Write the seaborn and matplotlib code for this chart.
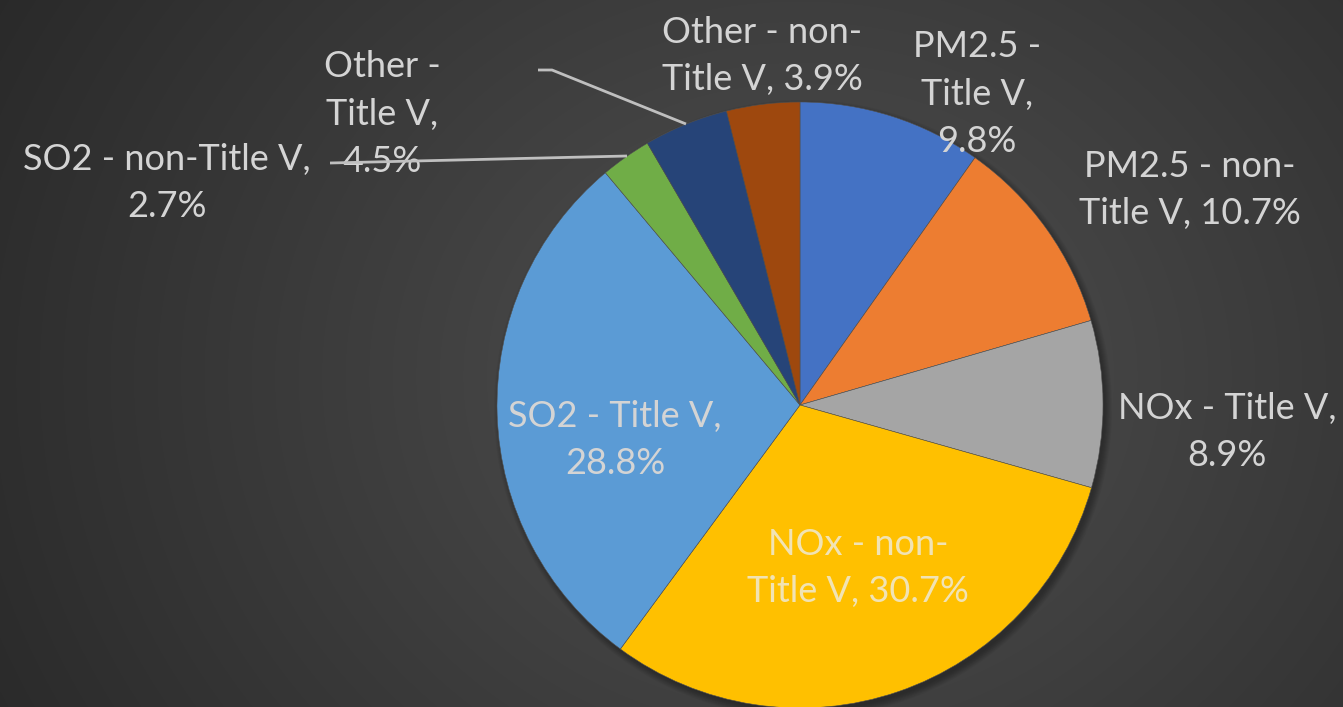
import numpy as np
import matplotlib
matplotlib.use("Agg")
import matplotlib.pyplot as plt
import seaborn as sns

# Emission shares by pollutant and permit class
categories = [
    "PM2.5 - Title V", "PM2.5 - non-Title V", "NOx - Title V", "NOx - non-Title V",
    "SO2 - Title V", "SO2 - non-Title V", "Other - Title V", "Other - non-Title V",
]
shares = [9.8, 10.7, 8.9, 30.7, 28.8, 2.7, 4.5, 3.9]
label_texts = [
    "PM2.5 -\nTitle V,\n9.8%",
    "PM2.5 - non-\nTitle V, 10.7%",
    "NOx - Title V,\n8.9%",
    "NOx - non-\nTitle V, 30.7%",
    "SO2 - Title V,\n28.8%",
    "SO2 - non-Title V,\n2.7%",
    "Other -\nTitle V,\n4.5%",
    "Other - non-\nTitle V, 3.9%",
]
slice_colors = ["#4472C4", "#ED7D31", "#A5A5A5", "#FFC000",
                "#5B9BD5", "#70AD47", "#264478", "#9E480E"]

sns.set_theme(style="white")
plt.rcParams["font.family"] = ["Lato", "DejaVu Sans"]

W, H = 1343, 707
fig = plt.figure(figsize=(W / 100, H / 100), dpi=100)
ax = fig.add_axes([0, 0, 1, 1])

# radial background shading
yy, xx = np.mgrid[0:H, 0:W]
d = np.hypot(xx - 800, (yy - 330) * 1.15)
shade = np.clip(0.315 - 0.15 * d / 900, 0.16, 0.32)
bg = np.dstack([shade, shade, shade])
ax.imshow(bg, extent=[0, W, 0, H], origin="lower", zorder=0, interpolation="bilinear")

cx, cy, r = 800, H - 405, 303

# soft drop shadow under the pie
for k in range(8):
    ax.add_patch(plt.Circle((cx + 3, cy - 4), r + 6 - k, color="black",
                            alpha=0.04, zorder=1, lw=0))

wedges, _ = ax.pie(shares, colors=slice_colors, startangle=90, counterclock=False,
                   center=(cx, cy), radius=r, frame=True,
                   wedgeprops=dict(linewidth=0.4, edgecolor="#505050", zorder=2))
ax.set_xlim(0, W)
ax.set_ylim(0, H)
ax.set_aspect("equal")
ax.axis("off")

txt_color = "#d4d4d4"
label_pos = [
    (977, 94), (1190, 190), (1227, 432), (858, 568),
    (615, 440), (167, 183), (382, 114), (762, 56),
]
for text, (x, y), c in zip(label_texts, label_pos, slice_colors):
    col = "#f1e3b4" if c == "#FFC000" else txt_color
    ax.text(x, H - y, text, ha="center", va="center", fontsize=26,
            fontweight="normal", color=col, linespacing=1.52, zorder=4)

# leader lines for the small slices
lc = "#bfbfbf"
ax.plot([538, 552, 686], [H - 70, H - 70, H - 124], color=lc, lw=2, zorder=3,
        solid_capstyle="butt")
ax.plot([330, 627], [H - 163, H - 156], color=lc, lw=2, zorder=5,
        solid_capstyle="butt")

fig.savefig("out.png", dpi=100, facecolor="#333333")
